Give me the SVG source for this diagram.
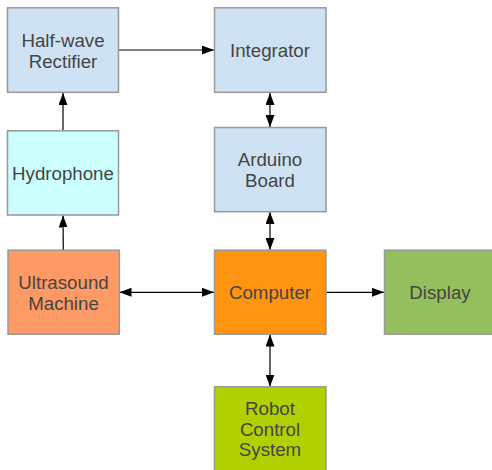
<svg xmlns="http://www.w3.org/2000/svg" width="492" height="470" viewBox="0 0 492 470">
<style>
.box{stroke:#999;stroke-width:1.5}
.t{font-family:"Liberation Sans",Arial,sans-serif;font-size:18.7px;fill:#454545;text-anchor:middle}
.c{stroke:#000;stroke-width:1.2;fill:none}
</style>
<defs>
<marker id="ah" markerUnits="userSpaceOnUse" markerWidth="12" markerHeight="9" refX="12" refY="4.5" orient="auto-start-reverse">
<path d="M0,0 L12,4.5 L0,9 Z" fill="#000"/>
</marker>
</defs>
<rect width="492" height="470" fill="#fff"/>
<g id="connectors">
<line class="c" x1="118.5" y1="50" x2="214" y2="50" marker-end="url(#ah)"/>
<line class="c" x1="63" y1="130.5" x2="63" y2="93" marker-end="url(#ah)"/>
<line class="c" x1="63.3" y1="250" x2="63" y2="215.5" marker-end="url(#ah)"/>
<line class="c" x1="270" y1="93" x2="270" y2="127" marker-start="url(#ah)" marker-end="url(#ah)"/>
<line class="c" x1="270" y1="212" x2="270" y2="250" marker-start="url(#ah)" marker-end="url(#ah)"/>
<line class="c" x1="119.5" y1="292.3" x2="214" y2="292.3" marker-start="url(#ah)" marker-end="url(#ah)"/>
<line class="c" x1="326.5" y1="292.3" x2="384" y2="292.3" marker-end="url(#ah)"/>
<line class="c" x1="270" y1="334.5" x2="270" y2="386.5" marker-start="url(#ah)" marker-end="url(#ah)"/>
</g>
<g id="rectifier">
<rect class="box" x="7.5" y="7.8" width="111" height="84.5" fill="#cfe2f3"/>
<text class="t" x="63" y="46.5">Half-wave</text>
<text class="t" x="63" y="67.5">Rectifier</text>
</g>
<g id="integrator">
<rect class="box" x="214.5" y="7.8" width="111.5" height="84.5" fill="#cfe2f3"/>
<text class="t" x="270" y="57">Integrator</text>
</g>
<g id="hydrophone">
<rect class="box" x="7.5" y="130.8" width="111" height="84.2" fill="#ccffff"/>
<text class="t" x="63" y="179.8">Hydrophone</text>
</g>
<g id="arduino">
<rect class="box" x="214.5" y="127.5" width="111.5" height="84.2" fill="#cfe2f3"/>
<text class="t" x="270" y="166">Arduino</text>
<text class="t" x="270" y="187">Board</text>
</g>
<g id="ultrasound">
<rect class="box" x="8" y="250.2" width="111.3" height="84" fill="#ff9966"/>
<text class="t" x="63.5" y="288.5">Ultrasound</text>
<text class="t" x="63.5" y="309.5">Machine</text>
</g>
<g id="computer">
<rect class="box" x="214.5" y="250.2" width="111.5" height="84" fill="#ff9410"/>
<text class="t" x="270" y="299">Computer</text>
</g>
<g id="display">
<rect class="box" x="384.5" y="250.2" width="112" height="84" fill="#93c05d"/>
<text class="t" x="440" y="299">Display</text>
</g>
<g id="robot">
<rect class="box" x="214.5" y="386.8" width="111.5" height="90" fill="#b1d000"/>
<text class="t" x="270" y="415">Robot</text>
<text class="t" x="270" y="435.5">Control</text>
<text class="t" x="270" y="456">System</text>
</g>
</svg>
